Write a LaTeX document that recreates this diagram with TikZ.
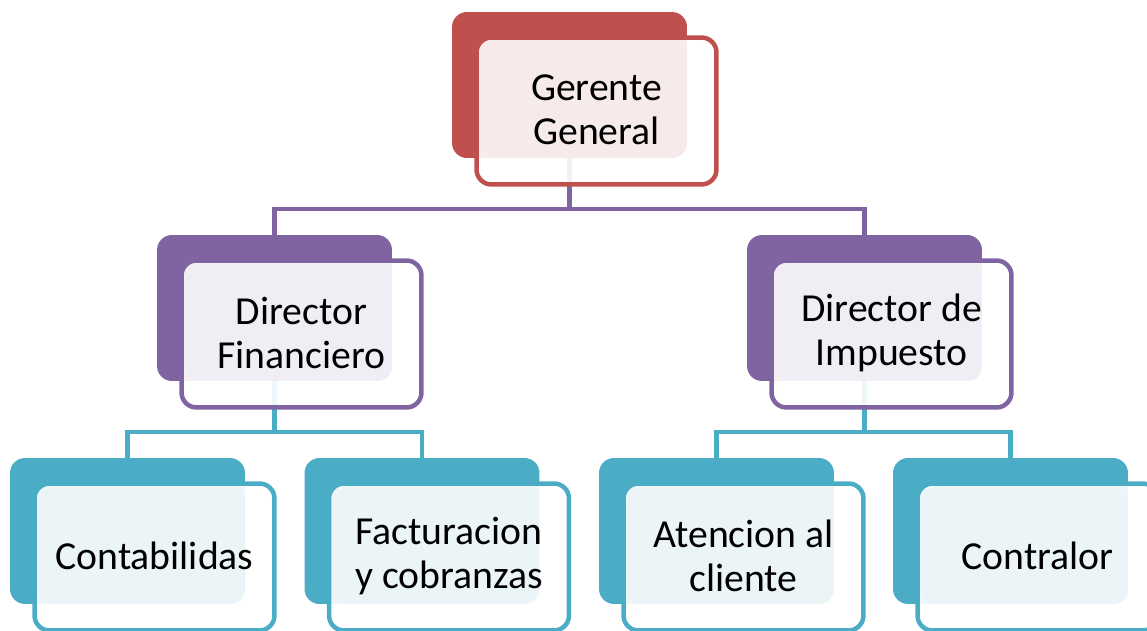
\documentclass[tikz,border=0pt]{standalone}
\usepackage{fontspec}
\setmainfont{Carlito}
\usetikzlibrary{calc,backgrounds}

\definecolor{rojo}{HTML}{C0504D}
\definecolor{morado}{HTML}{8064A2}
\definecolor{celeste}{HTML}{4BACC6}
\definecolor{rojoclaro}{HTML}{F7EAEA}
\definecolor{moradoclaro}{HTML}{F0EEF4}
\definecolor{celesteclaro}{HTML}{EBF5F8}

\tikzset{
  atras/.style={fill=#1, rounded corners=0.3cm, inner sep=0pt, outer sep=0pt,
    minimum width=4.7cm, minimum height=2.92cm},
  frente/.style={draw=#1, fill=white, fill opacity=0.9, line width=0.09cm,
    rounded corners=0.3cm, inner sep=0pt, outer sep=0pt,
    minimum width=4.8cm, minimum height=2.94cm},
  texto/.style={align=center, inner sep=0pt, font=\fontsize{22.6}{25}\selectfont},
  linea/.style={draw=#1, line width=0.085cm},
}

% caja con sombra: nombre, centro, color, tinte, texto
\newcommand{\caja}[5]{%
  \node[atras=#3] (#1) at (#2) {};
  \node[frente=#3] (#1f) at ($(#1)+(27,26)$) {};
  \fill[#4, rounded corners=0.3cm] ($(#1f.north west)+(4,4)$) rectangle (#1.south east);
  \node[texto] (#1t) at ($(#1f)+(0,-1)$) {#5};
}

\begin{document}
\begin{tikzpicture}[x=0.02cm, y=-0.02cm]
    \useasboundingbox (0,0) rectangle (1147,631);
    \clip (0,0) rectangle (1147,631);

    % nivel 1
    \caja{gg}{569.5,85}{rojo}{rojoclaro}{Gerente\\General}
    % nivel 2
    \caja{df}{274.5,308}{morado}{moradoclaro}{Director\\Financiero}
    \caja{di}{864.5,308}{morado}{moradoclaro}{Director de\\Impuesto}
    % nivel 3
    \caja{co}{127.5,531}{celeste}{celesteclaro}{Contabilidas}
    \caja{fa}{422,531}{celeste}{celesteclaro}{Facturacion\\y cobranzas}
    \caja{at}{716.5,531}{celeste}{celesteclaro}{Atencion al\\cliente}
    \caja{ct}{1010.5,531}{celeste}{celesteclaro}{Contralor}

    \begin{scope}[on background layer]
    \draw[linea=morado] (gg.south) -- ++(0,51) coordinate (j1);
    \draw[linea=morado] (df.north) |- (j1) -| (di.north);
    \draw[linea=celeste] (df.south) -- ++(0,51) coordinate (j2);
    \draw[linea=celeste] (co.north) |- (j2) -| (fa.north);
    \draw[linea=celeste] (di.south) -- ++(0,51) coordinate (j3);
    \draw[linea=celeste] (at.north) |- (j3) -| (ct.north);
    \end{scope}
\end{tikzpicture}
\end{document}
